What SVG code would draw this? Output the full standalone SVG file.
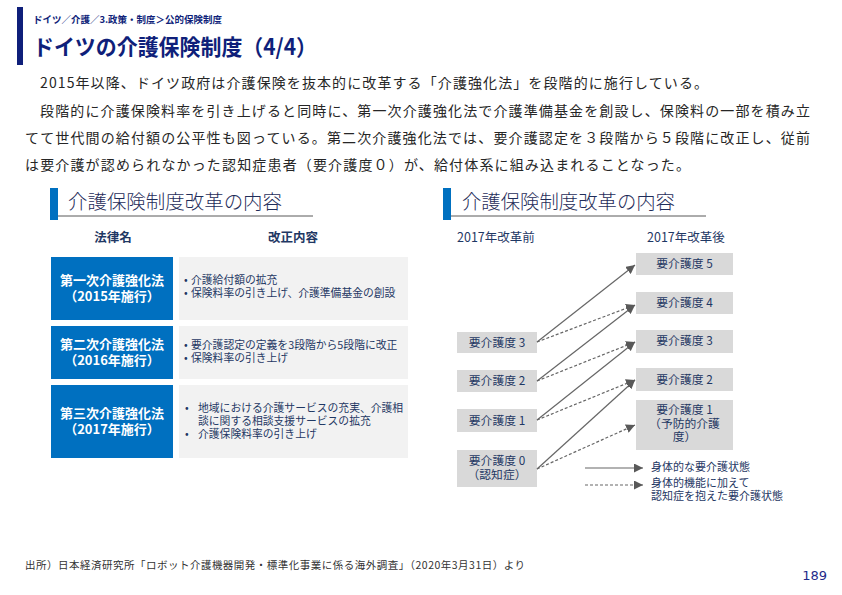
<svg xmlns="http://www.w3.org/2000/svg" width="842" height="595" viewBox="0 0 842 595">
<style>
text{font-family:"Noto Sans CJK JP","Noto Sans",sans-serif}
.navy{fill:#0F1F7A}
.body{font-size:14px;fill:#262626}
.sec{font-size:19.5px;font-weight:300;fill:#1F2D5A}
.colh{font-size:12.5px;font-weight:bold;fill:#1F3864}
.law{font-size:13px;font-weight:bold;fill:#FFFFFF}
.item{font-size:10.8px;fill:#1F3864}
.lvl{font-size:11.8px;fill:#1F3864}
.leg{font-size:11px;fill:#1F3864}
.hdr{font-size:12.5px;fill:#1F3864}
.blue{fill:#0070C0}
.gbox{fill:#F2F2F2}
.rbox{fill:#D9D9D9}
.sol{stroke:#666666;stroke-width:1.2;fill:none}
.dsh{stroke:#666666;stroke-width:1.2;fill:none;stroke-dasharray:3,2}
</style>
<defs>
<marker id="ah" markerUnits="userSpaceOnUse" markerWidth="10" markerHeight="9" refX="9" refY="4.5" orient="auto">
<path d="M0,0 L9,4.5 L0,9 Z" fill="#595959"/>
</marker>
</defs>
<rect width="842" height="595" fill="#FFFFFF"/>

<g id="header">
<rect x="17" y="7" width="6" height="58" class="navy"/>
<text x="33" y="23" class="navy" font-size="9.5" font-weight="bold" textLength="189" lengthAdjust="spacingAndGlyphs">ドイツ／介護／3.政策・制度＞公的保険制度</text>
<text x="33" y="55" class="navy" font-size="22" font-weight="bold" textLength="284" lengthAdjust="spacingAndGlyphs">ドイツの介護保険制度（4/4）</text>
</g>

<g id="body-text">
<text x="40" y="88" class="body" textLength="668" lengthAdjust="spacing">2015年以降、ドイツ政府は介護保険を抜本的に改革する「介護強化法」を段階的に施行している。</text>
<text x="40" y="116" class="body" textLength="770" lengthAdjust="spacing">段階的に介護保険料率を引き上げると同時に、第一次介護強化法で介護準備基金を創設し、保険料の一部を積み立</text>
<text x="25" y="143" class="body" textLength="785" lengthAdjust="spacing">てて世代間の給付額の公平性も図っている。第二次介護強化法では、要介護認定を３段階から５段階に改正し、従前</text>
<text x="25" y="170" class="body" textLength="665" lengthAdjust="spacing">は要介護が認められなかった認知症患者（要介護度０）が、給付体系に組み込まれることなった。</text>
</g>

<g id="section-left">
<rect x="50" y="188" width="8" height="32" class="blue"/>
<line x1="58" y1="216" x2="313" y2="216" stroke="#595959" stroke-width="1"/>
<text x="68" y="209" class="sec" textLength="214" lengthAdjust="spacingAndGlyphs">介護保険制度改革の内容</text>
<text x="113" y="242" class="colh" text-anchor="middle">法律名</text>
<text x="293" y="242" class="colh" text-anchor="middle">改正内容</text>
</g>

<g id="law1">
<rect x="51" y="257" width="122" height="63" class="blue"/>
<text x="112" y="285" class="law" text-anchor="middle">第一次介護強化法</text>
<text x="112" y="301" class="law" text-anchor="middle">（2015年施行）</text>
</g>
<g id="content1">
<rect x="179" y="257" width="229" height="63" class="gbox"/>
<text x="184" y="284" class="item">•<tspan x="191">介護給付額の拡充</tspan></text>
<text x="184" y="297" class="item">•<tspan x="191">保険料率の引き上げ、介護準備基金の創設</tspan></text>
</g>

<g id="law2">
<rect x="51" y="326" width="122" height="53" class="blue"/>
<text x="112" y="349" class="law" text-anchor="middle">第二次介護強化法</text>
<text x="112" y="365" class="law" text-anchor="middle">（2016年施行）</text>
</g>
<g id="content2">
<rect x="179" y="326" width="229" height="53" class="gbox"/>
<text x="184" y="349" class="item">•<tspan x="191">要介護認定の定義を3段階から5段階に改正</tspan></text>
<text x="184" y="362" class="item">•<tspan x="191">保険料率の引き上げ</tspan></text>
</g>

<g id="law3">
<rect x="51" y="385" width="122" height="73" class="blue"/>
<text x="112" y="418" class="law" text-anchor="middle">第三次介護強化法</text>
<text x="112" y="434" class="law" text-anchor="middle">（2017年施行）</text>
</g>
<g id="content3">
<rect x="179" y="385" width="229" height="73" class="gbox"/>
<text x="185" y="412" class="item">•<tspan x="198">地域における介護サービスの充実、介護相</tspan></text>
<text x="198" y="425" class="item">談に関する相談支援サービスの拡充</text>
<text x="185" y="438" class="item">•<tspan x="198">介護保険料率の引き上げ</tspan></text>
</g>

<g id="section-right">
<rect x="443" y="188" width="8" height="32" class="blue"/>
<line x1="451" y1="216" x2="706" y2="216" stroke="#595959" stroke-width="1"/>
<text x="462" y="209" class="sec" textLength="213" lengthAdjust="spacingAndGlyphs">介護保険制度改革の内容</text>
<text x="457" y="242" class="hdr">2017年改革前</text>
<text x="647" y="242" class="hdr">2017年改革後</text>
</g>

<g id="before3"><rect x="457" y="332" width="80" height="21" class="rbox"/><text x="497" y="346.5" class="lvl" text-anchor="middle">要介護度 3</text></g>
<g id="before2"><rect x="457" y="370" width="80" height="22" class="rbox"/><text x="497" y="385" class="lvl" text-anchor="middle">要介護度 2</text></g>
<g id="before1"><rect x="457" y="409" width="80" height="23" class="rbox"/><text x="497" y="424.5" class="lvl" text-anchor="middle">要介護度 1</text></g>
<g id="before0"><rect x="457" y="450" width="80" height="37" class="rbox"/><text x="497" y="465" class="lvl" text-anchor="middle">要介護度 0</text><text x="497" y="479" class="lvl" text-anchor="middle">（認知症）</text></g>

<g id="after5"><rect x="636" y="253" width="97" height="22" class="rbox"/><text x="684.5" y="268" class="lvl" text-anchor="middle">要介護度 5</text></g>
<g id="after4"><rect x="636" y="292" width="97" height="22" class="rbox"/><text x="684.5" y="307" class="lvl" text-anchor="middle">要介護度 4</text></g>
<g id="after3"><rect x="636" y="330" width="97" height="23" class="rbox"/><text x="684.5" y="345" class="lvl" text-anchor="middle">要介護度 3</text></g>
<g id="after2"><rect x="636" y="368" width="97" height="23" class="rbox"/><text x="684.5" y="383.5" class="lvl" text-anchor="middle">要介護度 2</text></g>
<g id="after1"><rect x="636" y="400" width="97" height="50" class="rbox"/><text x="684.5" y="414" class="lvl" text-anchor="middle">要介護度 1</text><text x="684.5" y="428" class="lvl" text-anchor="middle">（予防的介護</text><text x="684.5" y="441" class="lvl" text-anchor="middle">度）</text></g>

<g id="connectors">
<line x1="537" y1="342" x2="635" y2="265" class="sol" marker-end="url(#ah)"/>
<line x1="537" y1="381" x2="635" y2="305" class="sol" marker-end="url(#ah)"/>
<line x1="537" y1="420" x2="635" y2="342" class="sol" marker-end="url(#ah)"/>
<line x1="537" y1="469" x2="635" y2="380" class="sol" marker-end="url(#ah)"/>
<line x1="537" y1="342" x2="635" y2="305" class="dsh" marker-end="url(#ah)"/>
<line x1="537" y1="381" x2="635" y2="342" class="dsh" marker-end="url(#ah)"/>
<line x1="537" y1="420" x2="635" y2="380" class="dsh" marker-end="url(#ah)"/>
<line x1="537" y1="469" x2="635" y2="425" class="dsh" marker-end="url(#ah)"/>
</g>

<g id="legend">
<line x1="585" y1="468" x2="643" y2="468" class="sol" marker-end="url(#ah)"/>
<text x="651" y="471" class="leg">身体的な要介護状態</text>
<line x1="585" y1="485" x2="643" y2="485" class="dsh" marker-end="url(#ah)"/>
<text x="651" y="487" class="leg">身体的機能に加えて</text>
<text x="651" y="500" class="leg">認知症を抱えた要介護状態</text>
</g>

<g id="footer">
<text x="25" y="569" font-size="10.5" fill="#333333" textLength="500" lengthAdjust="spacing">出所）日本経済研究所「ロボット介護機器開発・標準化事業に係る海外調査」（2020年3月31日）より</text>
<text x="827" y="580" font-size="13" fill="#1F2A8A" text-anchor="end" style="font-family:'DejaVu Sans',sans-serif">189</text>
</g>
</svg>
